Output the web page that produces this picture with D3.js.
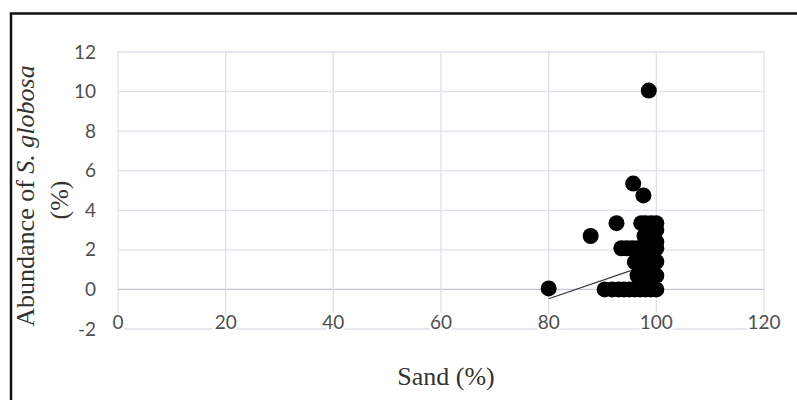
<!DOCTYPE html>
<html>
<head>
<meta charset="utf-8">
<script src="https://cdn.jsdelivr.net/npm/d3@7"></script>
<style>
  html, body { margin: 0; padding: 0; background: #fff; }
  svg { display: block; }
</style>
</head>
<body>
<svg id="chart" width="797" height="400"></svg>
<script>
// ---- data ----
const sand = [
  80, 87.8, 92.6, 95.7, 97.6, 98.6,
  90.4, 91.8, 93, 94, 95, 96, 97, 98, 99, 100,
  93.5, 94.5, 95.5, 96.5, 97.5, 98.5, 99.5, 100,
  97.2, 98, 99, 100,
  96, 96.5, 97, 97.5,
  99.2, 99.2, 99.2, 99.2, 100, 100, 100, 100, 98.6, 98.6,
  97.8, 97.8, 98
];
const abundance = [
  0.05, 2.7, 3.35, 5.35, 4.75, 10.05,
  0, 0, 0, 0, 0, 0, 0, 0, 0, 0,
  2.08, 2.08, 2.08, 2.08, 2.08, 2.08, 2.08, 2.08,
  3.35, 3.35, 3.35, 3.35,
  1.38, 0.7, 1.0, 0.4,
  0.35, 1.05, 1.7, 2.7, 0.7, 1.4, 2.4, 3.0, 1.0, 2.7,
  2.7, 1.7, 0.9
];
const trendX = [80, 100];
const trendY = [-0.47, 1.39];
const xTicks = [0, 20, 40, 60, 80, 100, 120];
const yTicks = [-2, 0, 2, 4, 6, 8, 10, 12];
const xTitle = "Sand (%)";
const yTitleLine2 = "(%)";

// ---- layout ----
const svg = d3.select("#chart");
const plot = { left: 118, right: 764, top: 52, bottom: 329 };
const x = d3.scaleLinear().domain([0, 120]).range([plot.left, plot.right]);
const y = d3.scaleLinear().domain([-2, 12]).range([plot.bottom, plot.top]);

// outer frame
svg.append("rect")
  .attr("x", 11).attr("y", 13.5)
  .attr("width", 800).attr("height", 400)
  .attr("fill", "#fff")
  .attr("stroke", "#111").attr("stroke-width", 2.5);

// gridlines
const grid = svg.append("g");
grid.selectAll("line.h").data(yTicks).join("line")
  .attr("class", "h")
  .attr("x1", plot.left).attr("x2", plot.right)
  .attr("y1", d => y(d)).attr("y2", d => y(d))
  .attr("stroke", d => d === 0 ? "#c4c6d2" : "#dfe0ea")
  .attr("stroke-width", 1.3);
grid.selectAll("line.v").data(xTicks).join("line")
  .attr("class", "v")
  .attr("x1", d => x(d)).attr("x2", d => x(d))
  .attr("y1", plot.top).attr("y2", plot.bottom)
  .attr("stroke", "#dfe0ea")
  .attr("stroke-width", 1.3);

// trend line
svg.append("line")
  .attr("x1", x(trendX[0])).attr("y1", y(trendY[0]))
  .attr("x2", x(trendX[1])).attr("y2", y(trendY[1]))
  .attr("stroke", "#333").attr("stroke-width", 1.2);

// points
svg.append("g").selectAll("circle")
  .data(sand.map((s, i) => [s, abundance[i]]))
  .join("circle")
  .attr("cx", d => x(d[0]))
  .attr("cy", d => y(d[1]))
  .attr("r", 8)
  .attr("fill", "#000");

// tick labels
const tickFont = "Lato, 'Open Sans', sans-serif";
svg.append("g").selectAll("text")
  .data(yTicks).join("text")
  .attr("x", 96).attr("y", d => y(d) + 6.5)
  .attr("text-anchor", "end")
  .attr("font-family", tickFont).attr("font-size", 19)
  .attr("fill", "#505050")
  .text(d => d);

svg.append("g").selectAll("text")
  .data(xTicks).join("text")
  .attr("x", d => x(d)).attr("y", 329)
  .attr("text-anchor", "middle")
  .attr("font-family", tickFont).attr("font-size", 19)
  .attr("fill", "#505050")
  .attr("stroke", "#fff").attr("stroke-width", 5)
  .attr("paint-order", "stroke")
  .text(d => d);

// axis titles
const serif = "'Liberation Serif', 'Times New Roman', serif";
svg.append("text")
  .attr("x", 446).attr("y", 385)
  .attr("text-anchor", "middle")
  .attr("font-family", serif).attr("font-size", 26)
  .attr("fill", "#333")
  .text(xTitle);

const cy = 196;
const t1 = svg.append("text")
  .attr("transform", `translate(34,${cy}) rotate(-90)`)
  .attr("text-anchor", "middle")
  .attr("font-family", serif).attr("font-size", 26)
  .attr("fill", "#333");
t1.append("tspan").text("Abundance of ");
t1.append("tspan").attr("font-style", "italic").text("S. globosa");

svg.append("text")
  .attr("transform", `translate(68,${cy + 4}) rotate(-90)`)
  .attr("text-anchor", "middle")
  .attr("font-family", serif).attr("font-size", 26)
  .attr("fill", "#333")
  .text(yTitleLine2);
</script>
</body>
</html>
